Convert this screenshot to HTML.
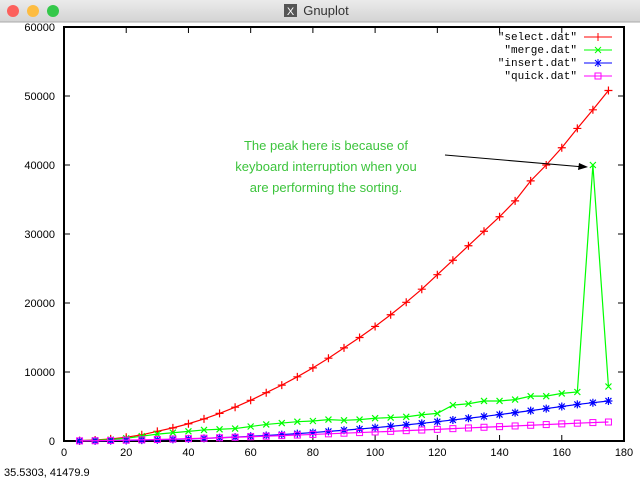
<!DOCTYPE html>
<html><head><meta charset="utf-8"><style>
body{margin:0;width:640px;height:482px;overflow:hidden;background:#fff;font-family:"Liberation Sans",sans-serif}
</style></head><body>
<svg width="640" height="482" xmlns="http://www.w3.org/2000/svg">
<defs><linearGradient id="tb" x1="0" y1="0" x2="0" y2="1"><stop offset="0" stop-color="#ebebeb"/><stop offset="1" stop-color="#d3d3d3"/></linearGradient></defs>
<rect x="0" y="0" width="640" height="22" fill="url(#tb)"/>
<line x1="0" y1="22" x2="640" y2="22" stroke="#aaa"/>
<circle cx="13" cy="11" r="6" fill="#fc605c"/>
<circle cx="33" cy="11" r="6" fill="#fdbc40"/>
<circle cx="53" cy="11" r="6" fill="#34c84a"/>
<text x="326" y="15" font-size="13" text-anchor="middle" fill="#333">Gnuplot</text>
<rect x="284" y="4" width="13" height="13" fill="#555"/>
<text x="290.5" y="15" font-size="11" text-anchor="middle" fill="#fff">X</text>
<rect x="64" y="27" width="560" height="414" fill="none" stroke="#000" stroke-width="2"/>
<g id="axes" font-size="11" fill="#000"></g>
<g id="series"></g>
<g font-family="Liberation Mono,monospace" font-size="11">
<text x="577" y="40" text-anchor="end">"select.dat"</text>
<line x1="584" y1="37" x2="612" y2="37" stroke="#f00"/><line x1="598" y1="33" x2="598" y2="41" stroke="#f00"/>
<text x="577" y="53" text-anchor="end">"merge.dat"</text>
<line x1="584" y1="50" x2="612" y2="50" stroke="#0f0"/><path d="M595 47l6 6M601 47l-6 6" stroke="#0f0"/>
<text x="577" y="66" text-anchor="end">"insert.dat"</text>
<line x1="584" y1="63" x2="612" y2="63" stroke="#00f"/><path d="M595 60l6 6M601 60l-6 6M598 59v8" stroke="#00f"/>
<text x="577" y="79" text-anchor="end">"quick.dat"</text>
<line x1="584" y1="76" x2="612" y2="76" stroke="#f0f"/><rect x="595" y="73" width="6" height="6" fill="none" stroke="#f0f"/>
</g>
<g fill="#3cc43c" font-size="13" text-anchor="middle">
<text x="326" y="150">The peak here is because of</text>
<text x="326" y="171">keyboard interruption when you</text>
<text x="326" y="192">are performing the sorting.</text>
</g>
<line x1="445" y1="155" x2="584" y2="167" stroke="#000"/>
<path d="M588 167l-9 -4l-1 7z" fill="#000"/>
<text x="4" y="476" font-size="11" fill="#000">35.5303,  41479.9</text>
</svg>
<script>
const xs=[5,10,15,20,25,30,35,40,45,50,55,60,65,70,75,80,85,90,95,100,105,110,115,120,125,130,135,140,145,150,155,160,165,170,175];
const selectVals=[50,150,300,550,900,1400,1900,2500,3200,4000,4900,5900,7000,8100,9300,10600,12000,13500,15000,16600,18300,20100,22000,24100,26200,28300,30400,32500,34800,37700,40000,42500,45300,48000,50800];
const mergeVals=[50,100,200,400,700,1000,1200,1400,1600,1700,1800,2100,2400,2600,2800,2900,3100,3000,3100,3300,3400,3500,3800,4000,5200,5400,5800,5800,6000,6500,6500,6900,7100,40000,7900];
const insertVals=[10,20,50,80,120,170,230,300,380,470,560,680,800,930,1070,1220,1390,1560,1740,1930,2130,2340,2560,2800,3050,3300,3560,3830,4110,4400,4700,5000,5300,5550,5800];
const quickVals=[20,40,80,120,170,220,280,340,400,470,540,620,700,780,860,950,1040,1130,1220,1310,1400,1500,1590,1690,1790,1890,1990,2080,2180,2280,2380,2480,2580,2670,2750];
const xTicks=[0,20,40,60,80,100,120,140,160,180];
const yTicks=[0,10000,20000,30000,40000,50000,60000];
const X=v=>64+v*560/180, Y=v=>441-v*414/60000;
const NS='http://www.w3.org/2000/svg';
function mk(t,a,p){const e=document.createElementNS(NS,t);for(const k in a)e.setAttribute(k,a[k]);p.appendChild(e);return e;}
const ax=document.getElementById('axes');
xTicks.forEach(t=>{
 const l=mk('line',{x1:X(t),x2:X(t),y1:441,y2:435,stroke:'#000'},ax);
 
 
 mk('line',{x1:X(t),x2:X(t),y1:27,y2:33,stroke:'#000'},ax);
 const tx=mk('text',{x:X(t),y:456,'text-anchor':'middle'},ax);tx.textContent=t;
 
 
});
yTicks.forEach(t=>{
 const l=mk('line',{x1:64,x2:70,y1:Y(t),y2:Y(t),stroke:'#000'},ax);
 
 
 mk('line',{x1:618,x2:624,y1:Y(t),y2:Y(t),stroke:'#000'},ax);
 const tx=mk('text',{x:55,y:Y(t)+4,'text-anchor':'end'},ax);tx.textContent=t;
 
 
});
const sg=document.getElementById('series');
function series(vals,color,marker,name){
 const g=mk('g',{},sg);
 
 
 mk('polyline',{points:xs.map((x,i)=>X(x)+','+Y(vals[i])).join(' '),fill:'none',stroke:color,'stroke-width':1.2},g);
 xs.forEach((x,i)=>{const cx=X(x),cy=Y(vals[i]);let d;
  if(marker==='plus')d=`M${cx-4} ${cy}h8M${cx} ${cy-4}v8`;
  else if(marker==='x')d=`M${cx-3} ${cy-3}l6 6M${cx+3} ${cy-3}l-6 6`;
  else if(marker==='star')d=`M${cx-3} ${cy-3}l6 6M${cx+3} ${cy-3}l-6 6M${cx} ${cy-4}v8M${cx-4} ${cy}h8`;
  if(marker==='box'){const r=mk('rect',{x:cx-3,y:cy-3,width:6,height:6,fill:'none',stroke:color},g);}
  else{const p=mk('path',{d:d,stroke:color,'stroke-width':1.2},g);}
 });
}
series(selectVals,'#f00','plus','series-select');
series(mergeVals,'#0f0','x','series-merge');
series(insertVals,'#00f','star','series-insert');
series(quickVals,'#f0f','box','series-quick');
</script>
</body></html>
